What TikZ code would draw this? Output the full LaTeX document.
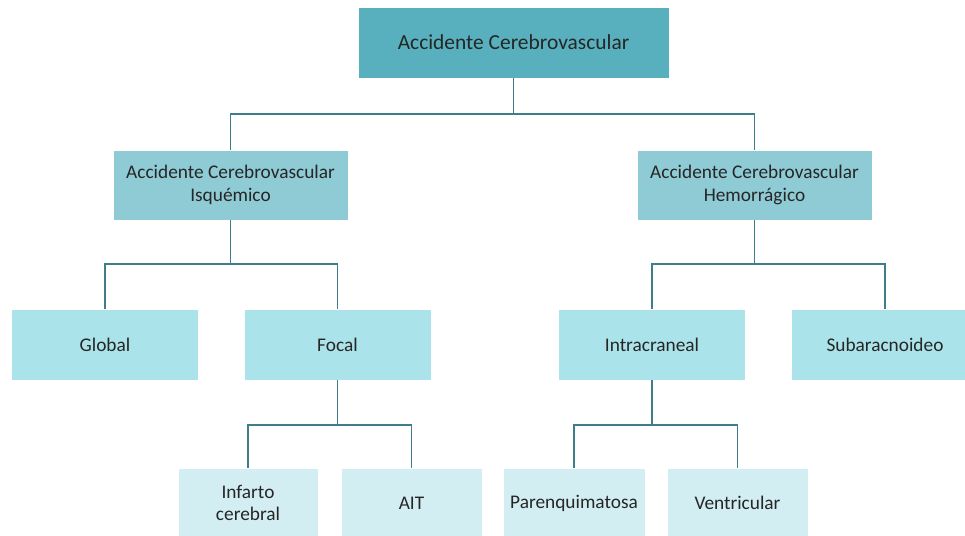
\documentclass[tikz,border=0pt]{standalone}
\usepackage{fontspec}
\setmainfont{Carlito}
\usepackage{xcolor}
\usepackage{tikz}
\definecolor{levelone}{HTML}{58B0BE}
\definecolor{leveltwo}{HTML}{8ECBD5}
\definecolor{levelthree}{HTML}{ABE3EA}
\definecolor{levelfour}{HTML}{D2EEF3}
\definecolor{linkcolor}{HTML}{3E7D8A}
\tikzset{mybox/.style = {fill=#1,draw=white,line width=0.4pt,inner sep=2pt,align=center,text=black!85,font=\fontsize{11}{13}\selectfont},
branchline/.style = {draw=linkcolor,line width=1.1pt}}
\NewDocumentCommand{\fbranch}{O{44} m m m}{%
\draw[branchline] (#2.south) -- ++(0,#1) coordinate (#2-split) -| (#3.north);
\draw[branchline] (#2-split) -| (#4.north);
}

\begin{document}
\begin{tikzpicture}[x=0.02cm,y=-0.02cm]
\clip (0,0) rectangle (965,535);
\fill[white] (0,0) rectangle (965,535);

\node(acv)[mybox=levelone,minimum width=311*0.02cm,minimum height=71*0.02cm,font=\fontsize{12.2}{14}\selectfont] at (513.5,42.5) {Accidente Cerebrovascular};

\node(isq)[mybox=leveltwo,minimum width=235*0.02cm,minimum height=70*0.02cm] at (230.5,185) {Accidente Cerebrovascular\\Isquémico};
\node(hem)[mybox=leveltwo,minimum width=235*0.02cm,minimum height=70*0.02cm] at (754.5,185) {Accidente Cerebrovascular\\Hemorrágico};

\node(global)[mybox=levelthree,minimum width=187*0.02cm,minimum height=71*0.02cm] at (105,344.5) {Global};
\node(focal)[mybox=levelthree,minimum width=187*0.02cm,minimum height=71*0.02cm] at (337.5,344.5) {Focal};
\node(intra)[mybox=levelthree,minimum width=187*0.02cm,minimum height=71*0.02cm] at (652,344.5) {Intracraneal};
\node(subar)[mybox=levelthree,minimum width=187*0.02cm,minimum height=71*0.02cm] at (885,344.5) {Subaracnoideo};

\node(infarto)[mybox=levelfour,minimum width=140*0.02cm,minimum height=70*0.02cm] at (248,503) {Infarto\\cerebral};
\node(ait)[mybox=levelfour,minimum width=141*0.02cm,minimum height=70*0.02cm] at (411.5,503) {AIT};
\node(paren)[mybox=levelfour,minimum width=142*0.02cm,minimum height=70*0.02cm] at (574,503) {Parenquimatosa};
\node(ventr)[mybox=levelfour,minimum width=141*0.02cm,minimum height=70*0.02cm] at (737.5,503) {Ventricular};

\fbranch[36]{acv}{isq}{hem}
\fbranch{isq}{global}{focal}
\fbranch{hem}{intra}{subar}
\fbranch[45]{focal}{infarto}{ait}
\fbranch[45]{intra}{paren}{ventr}
\end{tikzpicture}
\end{document}
